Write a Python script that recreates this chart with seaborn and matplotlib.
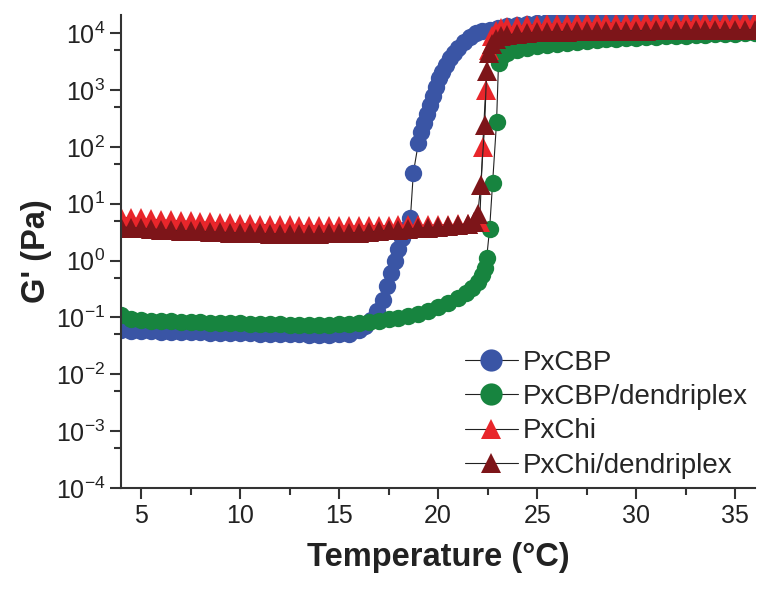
import matplotlib
matplotlib.use("Agg")
import matplotlib.pyplot as plt
import matplotlib.ticker as mticker
import seaborn as sns

# G' (Pa) vs temperature
t_cbp = [4, 4.5, 5, 5.5, 6, 6.5, 7, 7.5, 8, 8.5, 9, 9.5, 10, 10.5, 11, 11.5, 12, 12.5,
         13, 13.5, 14, 14.5, 15, 15.5, 16, 16.3, 16.6, 16.9, 17.2, 17.4, 17.6, 17.8, 18.0,
         18.2, 18.4, 18.6, 18.75, 19.0, 19.15, 19.3, 19.45, 19.6, 19.75, 19.9, 20.05, 20.2,
         20.4, 20.6, 20.8, 21.0, 21.3, 21.6, 21.9, 22.2, 22.6, 23, 23.5, 24, 24.5, 25, 25.5,
         26, 26.5, 27, 27.5, 28, 28.5, 29, 29.5, 30, 30.5, 31, 31.5, 32, 32.5, 33, 33.5,
         34, 34.5, 35, 35.5, 36]
g_cbp = [0.06, 0.058, 0.057, 0.057, 0.056, 0.056, 0.055, 0.055, 0.055, 0.054, 0.054,
         0.053, 0.053, 0.053, 0.052, 0.052, 0.051, 0.05, 0.05, 0.049, 0.049, 0.049, 0.05,
         0.052, 0.06, 0.07, 0.09, 0.13, 0.2, 0.35, 0.6, 1.0, 1.6, 2.5, 3.6, 5.5, 35, 115,
         180, 260, 380, 550, 800, 1150, 1600, 2100, 2800, 3600, 4500, 5400, 7000, 8500,
         10000, 10800, 11600, 12400, 13200, 14000, 14800, 15400, 15900, 16300, 16600,
         16800, 17000, 17100, 17200, 17300, 17400, 17500, 17600, 17700, 17750, 17800,
         17850, 17900, 17950, 18000, 18050, 18100, 18150, 18200]

t_cbp_den = [4, 4.5, 5, 5.5, 6, 6.5, 7, 7.5, 8, 8.5, 9, 9.5, 10, 10.5, 11, 11.5, 12, 12.5,
             13, 13.5, 14, 14.5, 15, 15.5, 16, 16.5, 17, 17.5, 18, 18.5, 19, 19.5, 20,
             20.5, 21, 21.4, 21.7, 22.0, 22.2, 22.35, 22.45, 22.6, 22.75, 22.95, 23.05,
             23.2, 23.5, 24, 24.5, 25, 25.5, 26, 26.5, 27, 27.5, 28, 28.5, 29, 29.5, 30,
             30.5, 31, 31.5, 32, 32.5, 33, 33.5, 34, 34.5, 35, 35.5, 36]
g_cbp_den = [0.11, 0.095, 0.09, 0.088, 0.086, 0.085, 0.084, 0.083, 0.082, 0.081, 0.08,
             0.08, 0.079, 0.078, 0.077, 0.076, 0.075, 0.074, 0.073, 0.072, 0.072, 0.073,
             0.075, 0.077, 0.08, 0.083, 0.087, 0.092, 0.098, 0.105, 0.115, 0.13, 0.15,
             0.18, 0.22, 0.27, 0.33, 0.42, 0.55, 0.75, 1.1, 3.6, 23, 270, 3000, 3800,
             4400, 5000, 5500, 5900, 6250, 6550, 6850, 7100, 7350, 7550, 7750, 7950, 8150,
             8350, 8500, 8650, 8800, 8950, 9100, 9250, 9400, 9550, 9700, 9850, 9950, 10100]

t_chi = [4, 4.5, 5, 5.5, 6, 6.5, 7, 7.5, 8, 8.5, 9, 9.5, 10, 10.5, 11, 11.5, 12, 12.5,
         13, 13.5, 14, 14.5, 15, 15.5, 16, 16.5, 17, 17.5, 18, 18.5, 19, 19.5, 20, 20.5,
         21, 21.5, 22.1, 22.25, 22.4, 22.55, 22.7, 22.9, 23.2, 23.5, 24, 24.5, 25, 25.5,
         26, 26.5, 27, 27.5, 28, 28.5, 29, 29.5, 30, 30.5, 31, 31.5, 32, 32.5, 33, 33.5,
         34, 34.5, 35, 35.5, 36]
g_chi = [5.8, 5.6, 5.5, 5.3, 5.2, 5.1, 5.0, 4.9, 4.8, 4.7, 4.6, 4.5, 4.45, 4.4, 4.3,
         4.25, 4.2, 4.15, 4.1, 4.1, 4.05, 4.05, 4.05, 4.05, 4.05, 4.1, 4.1, 4.1, 4.15,
         4.15, 4.2, 4.2, 4.25, 4.3, 4.35, 4.4, 4.8, 98, 1000, 5000, 9000, 11000, 12200,
         12800, 13400, 13800, 14100, 14300, 14500, 14700, 14850, 15000, 15100, 15200,
         15300, 15400, 15500, 15600, 15700, 15750, 15800, 15850, 15900, 15950, 16000,
         16050, 16100, 16150, 16200]

t_chi_den = [4, 4.5, 5, 5.5, 6, 6.5, 7, 7.5, 8, 8.5, 9, 9.5, 10, 10.5, 11, 11.5, 12, 12.5,
             13, 13.5, 14, 14.5, 15, 15.5, 16, 16.5, 17, 17.5, 18, 18.5, 19, 19.5, 20,
             20.5, 21, 21.5, 21.8, 22.0, 22.15, 22.35, 22.45, 22.55, 22.7, 22.9, 23.2,
             23.5, 24, 24.5, 25, 25.5, 26, 26.5, 27, 27.5, 28, 28.5, 29, 29.5, 30, 30.5,
             31, 31.5, 32, 32.5, 33, 33.5, 34, 34.5, 35, 35.5, 36]
g_chi_den = [3.9, 3.8, 3.7, 3.6, 3.5, 3.4, 3.35, 3.3, 3.25, 3.2, 3.15, 3.1, 3.05, 3.0,
             3.0, 2.95, 2.95, 2.9, 2.9, 2.9, 2.95, 3.0, 3.0, 3.05, 3.1, 3.2, 3.3, 3.4, 3.5,
             3.6, 3.7, 3.8, 3.9, 4.0, 4.2, 4.4, 4.8, 6.5, 21, 240, 2200, 4500, 6500, 8000,
             8800, 9300, 9800, 10100, 10300, 10500, 10600, 10700, 10800, 10850, 10900,
             10950, 11000, 11050, 11100, 11150, 11200, 11250, 11300, 11330, 11360, 11390,
             11420, 11450, 11470, 11490, 11500]

series = [
    ("PxCBP", t_cbp, g_cbp, "#3a55a5", "o", 12.5),
    ("PxCBP/dendriplex", t_cbp_den, g_cbp_den, "#17843f", "o", 12.5),
    ("PxChi", t_chi, g_chi, "#e8262b", "^", 15),
    ("PxChi/dendriplex", t_chi_den, g_chi_den, "#7d1519", "^", 15),
]

sns.set_style("ticks")
plt.rcParams["font.family"] = ["Liberation Sans", "DejaVu Sans"]
plt.rcParams["mathtext.fontset"] = "custom"
plt.rcParams["mathtext.rm"] = "Liberation Sans"
plt.rcParams["mathtext.it"] = "Liberation Sans:italic"
plt.rcParams["mathtext.bf"] = "Liberation Sans:bold"

fig = plt.figure(figsize=(7.72, 5.95), dpi=100)
ax = fig.add_axes([0.157, 0.180, 0.821, 0.795])
ax.set_yscale("log")

for name, t, g, col, mk, ms in series:
    sns.lineplot(x=t, y=g, ax=ax, color="#222222", lw=0.8, marker=mk, markersize=ms,
                 markerfacecolor=col, markeredgecolor=col, markeredgewidth=0,
                 label=name, estimator=None, sort=False)

ax.set_xlim(4, 36)
ax.set_ylim(1e-4, 2.1e4)
ax.xaxis.set_major_locator(mticker.MultipleLocator(5))
ax.xaxis.set_minor_locator(mticker.MultipleLocator(2.5))
ax.yaxis.set_major_locator(mticker.LogLocator(base=10, numticks=20))
ax.yaxis.set_minor_locator(mticker.LogLocator(base=10, subs=(5,), numticks=20))
ax.yaxis.set_minor_formatter(mticker.NullFormatter())

sns.despine(ax=ax)
for side in ["left", "bottom"]:
    ax.spines[side].set_linewidth(1.5)
    ax.spines[side].set_color("#333333")
ax.tick_params(which="major", direction="out", length=8, width=1.5, color="#333333",
               labelsize=18, labelcolor="#222222")
ax.tick_params(which="minor", direction="out", length=5, width=1.5, color="#333333")

ax.set_xlabel("Temperature (°C)", fontsize=23.5, fontweight="bold", color="#222222", labelpad=10)
ax.set_ylabel("G' (Pa)", fontsize=23.5, fontweight="bold", color="#222222", labelpad=3)

leg = ax.legend(loc="lower right", bbox_to_anchor=(1.011, -0.01), frameon=False, fontsize=20,
                handlelength=1.9, handletextpad=0.2, labelspacing=0.3, borderaxespad=0.1)
for h, (name, t, g, col, mk, ms) in zip(leg.legend_handles, series):
    h.set_markersize(16 if mk == "o" else 15)

fig.savefig("out.png", dpi=100)
